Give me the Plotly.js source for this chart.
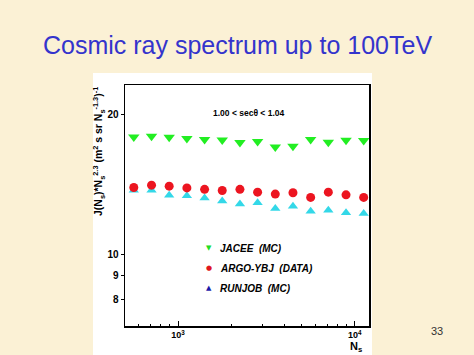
<!DOCTYPE html>
<html><head><meta charset="utf-8">
<script src="https://cdn.plot.ly/plotly-3.0.1.min.js"></script>
<style>html,body{margin:0;padding:0;background:#FBF1D5;}</style>
</head><body>
<div id="chart" style="width:474px;height:355px;"></div>
<script>
const ns = [562, 708, 891, 1122, 1413, 1778, 2239, 2818, 3548, 4467, 5623, 7079, 8913, 11220];
const jacee = [17.87, 17.94, 17.85, 17.73, 17.65, 17.61, 17.39, 17.47, 17.01, 17.07, 17.65, 17.40, 17.57, 17.55];
const argo = [13.91, 14.07, 14.00, 13.88, 13.78, 13.70, 13.78, 13.59, 13.46, 13.55, 13.24, 13.59, 13.41, 13.24];
const runjob = [13.72, 13.72, 13.39, 13.35, 13.21, 13.00, 12.81, 12.89, 12.54, 12.68, 12.37, 12.43, 12.27, 12.23];
const xTickVals = [1000, 10000];
const xTickText = ['10<sup>3</sup>', '10<sup>4</sup>'];
const yTickVals = [8, 9, 10, 20];
const yTickText = ['8', '9', '10', '20'];
const legendNames = ['JACEE  (MC)', 'ARGO-YBJ  (DATA)', 'RUNJOB  (MC)'];

const L = 125, R = 369, T = 85, B = 326;
const px = v => (v - L) / (R - L);
const py = v => (B - v) / (B - T);

const traces = [
  {x: ns, y: runjob, mode: 'markers', type: 'scatter', marker: {symbol: 'triangle-up', size: 9, color: '#33d8e8'}},
  {x: ns, y: argo, mode: 'markers', type: 'scatter', marker: {symbol: 'circle', size: 9, color: '#ec1520'}},
  {x: ns, y: jacee, mode: 'markers', type: 'scatter', marker: {symbol: 'triangle-down', size: 10, color: '#22ee22'}}
];

const bold = "Arial, 'Liberation Sans', sans-serif";
const legSym = ['▼', '●', '▲'];
const legCol = ['#22dd22', '#e01520', '#1a1aa8'];
const legY = [248, 268, 288];
function A(o) {
  return Object.assign({xref: 'paper', yref: 'paper', showarrow: false, xanchor: 'center', yanchor: 'middle'}, o);
}
const ann = [
  A({text: 'Cosmic ray spectrum up to 100TeV', x: px(237), y: py(45),
   font: {family: bold, size: 25, color: '#3434cc'}}),
  A({text: '<b>1.00 &lt; secθ &lt; 1.04</b>', x: px(249), y: py(113),
   font: {family: bold, size: 8.5, color: '#000'}}),
  A({text: '<b>J(N<sub>s</sub>)*N<sub>s</sub><sup>2.3</sup> (m<sup>2</sup> s sr N<sub>s</sub><sup>-1.3</sup>)<sup>-1</sup></b>',
   x: px(99), y: py(152), textangle: -90,
   font: {family: bold, size: 10.5, color: '#000'}}),
  A({text: '<b>N<sub>s</sub></b>', x: px(356), y: py(346.5),
   font: {family: bold, size: 11, color: '#000'}}),
  A({text: '33', x: px(437), y: py(331),
   font: {family: bold, size: 11, color: '#333'}})
];
for (let i = 0; i < 3; i++) {
  ann.push(A({text: legSym[i], x: px(209), y: py(legY[i]),
    font: {family: 'DejaVu Sans', size: 7, color: legCol[i]}}));
  ann.push(A({text: '<b><i>' + legendNames[i] + '</i></b>', x: px(218), y: py(legY[i]),
    xanchor: 'left', font: {family: bold, size: 10, color: '#000'}}));
}

const layout = {
  width: 474, height: 355,
  margin: {l: L, r: 474 - R, t: T, b: 355 - B, pad: 0},
  paper_bgcolor: '#FBF1D5', plot_bgcolor: '#ffffff',
  showlegend: false,
  shapes: [{type: 'rect', xref: 'paper', yref: 'paper', x0: px(93), x1: px(372), y0: py(358), y1: py(73),
    fillcolor: '#ffffff', line: {width: 0}, layer: 'below'}],
  xaxis: {type: 'log', range: [2.70, 4.08], showgrid: false, zeroline: false,
    showline: true, mirror: true, linecolor: '#000', linewidth: 1.5,
    tickmode: 'array', tickvals: xTickVals, ticktext: xTickText, ticks: 'inside', ticklen: 5, tickcolor: '#000',
    tickfont: {family: bold, size: 9, color: '#000', weight: 'bold'},
    minor: {tickmode: 'array', tickvals: [600, 700, 800, 900, 2000, 3000, 4000, 5000, 6000, 7000, 8000, 9000],
      ticks: 'inside', ticklen: 2, tickcolor: '#000', showgrid: false}},
  yaxis: {type: 'log', range: [0.845, 1.364], showgrid: false, zeroline: false,
    showline: true, mirror: true, linecolor: '#000', linewidth: 1.5,
    tickmode: 'array', tickvals: yTickVals, ticktext: yTickText, ticks: 'outside', ticklen: 3, tickcolor: '#000',
    tickfont: {family: bold, size: 10, color: '#000', weight: 'bold'}},
  annotations: ann
};
Plotly.newPlot('chart', traces, layout, {displayModeBar: false, staticPlot: true});
</script>
</body></html>
